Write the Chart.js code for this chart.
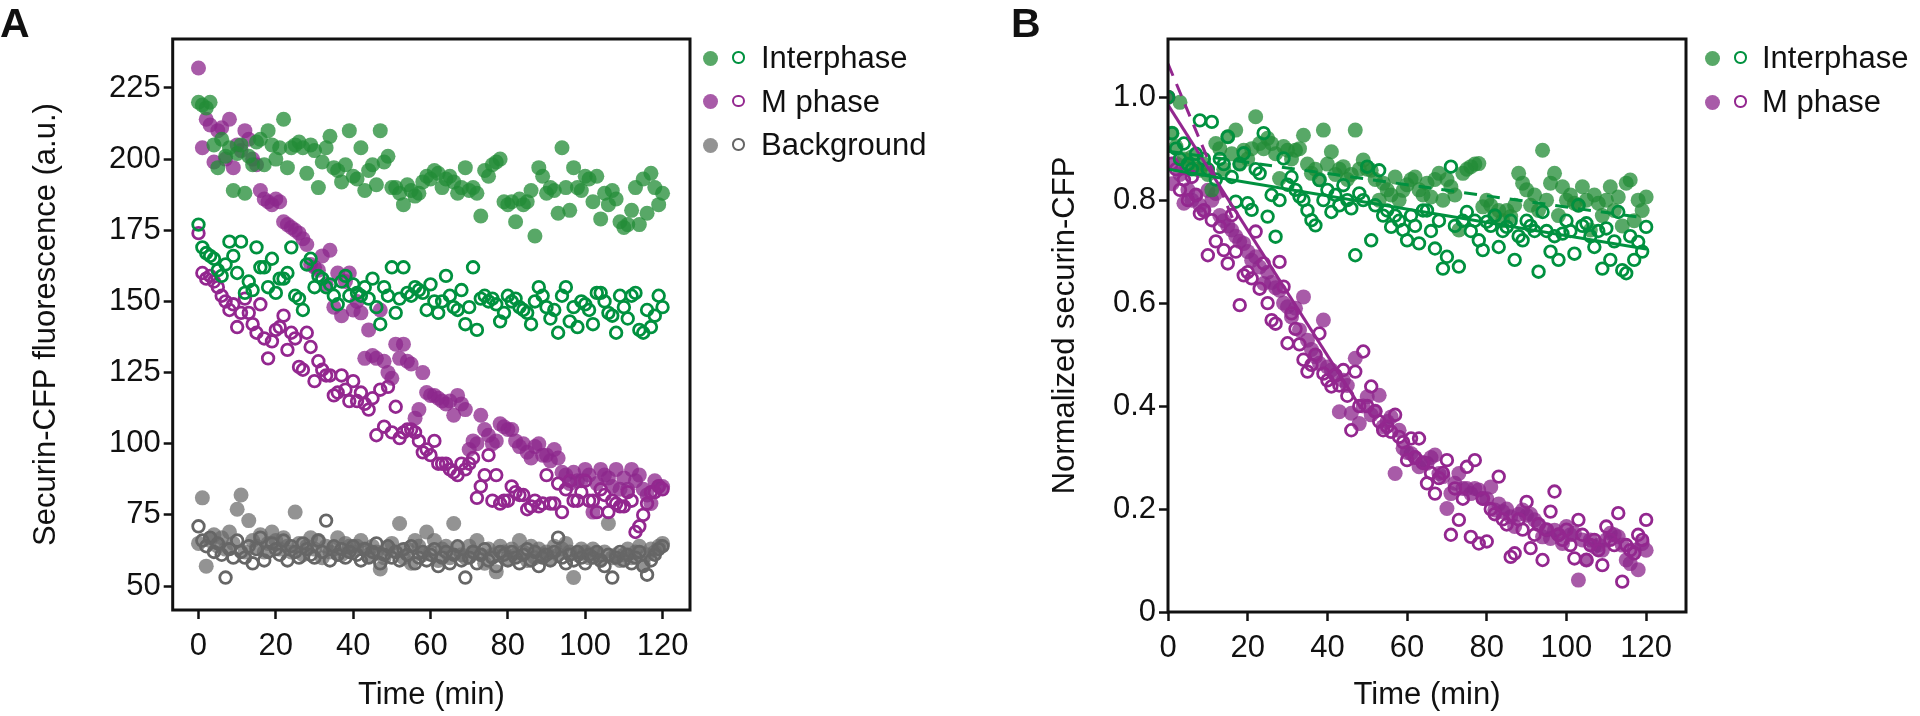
<!DOCTYPE html>
<html>
<head>
<meta charset="utf-8">
<script src="https://cdn.jsdelivr.net/npm/chart.js@4.4.1/dist/chart.umd.min.js"></script>
<style>
  body { margin: 0; background: #fff; width: 1920px; height: 716px; overflow: hidden; position: relative;
         font-family: 'Liberation Sans', Arial, sans-serif; color: #111; }
  .panel { position: absolute; top: 0; width: 960px; height: 716px; }
  .letter { position: absolute; top: 3px; font-weight: bold; font-size: 41px; line-height: 41px; }
  .row { position: absolute; height: 36px; white-space: nowrap; }
  .dot { position: absolute; top: 10.5px; width: 15px; height: 15px; border-radius: 50%; }
  .ring { position: absolute; top: 11px; width: 8.5px; height: 8.5px; border-radius: 50%; border: 2.8px solid; }
  .lbl { position: absolute; top: 0; font-size: 31px; line-height: 36px; }
</style>
</head>
<body>
<div class="panel" style="left:0"><canvas id="chartA" width="960" height="716"></canvas></div>
<div class="panel" style="left:960px"><canvas id="chartB" width="960" height="716"></canvas></div>
<div class="letter" style="left:0">A</div>
<div class="letter" style="left:1011px">B</div>
<div id="legendA"></div>
<div id="legendB"></div>
<script>
// time points (min)
const times = [
  0,1,2,3,4,5,6,7,8,9,10,11,12,13,14,15,16,17,18,19,
  20,21,22,23,24,25,26,27,28,29,30,31,32,33,34,35,36,37,38,39,
  40,41,42,43,44,45,46,47,48,49,50,51,52,53,54,55,56,57,58,59,
  60,61,62,63,64,65,66,67,68,69,70,71,72,73,74,75,76,77,78,79,
  80,81,82,83,84,85,86,87,88,89,90,91,92,93,94,95,96,97,98,99,
  100,101,102,103,104,105,106,107,108,109,110,111,112,113,114,115,116,117,118,119,
  120
];

// Panel A: securin-CFP fluorescence (a.u.)
const interFilledA = [
  220,219,218,220,205,197,207,201,204,189,
  202,205,188,201,198,206,207,198,210,205,
  200,204,214,197,204,205,206,204,195,205,
  203,190,199,204,208,197,196,192,198,210,
  194,193,204,189,196,198,191,210,199,201,
  190,190,188,184,191,189,187,188,192,194,
  193,196,195,190,193,194,192,188,190,197,
  189,190,188,180,196,194,198,199,200,185,
  184,185,178,186,184,185,189,173,197,194,
  188,190,189,181,204,190,182,197,190,189,
  194,193,185,194,179,188,184,189,186,178,
  176,177,182,190,177,193,181,195,190,184,
  188
];
const interOpenA = [
  177,169,167,166,165,161,159,163,171,166,
  160,171,153,157,154,169,162,162,155,165,
  153,158,158,160,169,152,151,147,163,165,
  155,159,158,155,156,152,149,157,159,152,
  156,153,152,155,151,158,148,142,155,152,
  162,146,151,162,153,152,155,154,153,147,
  156,150,146,150,159,152,148,147,154,142,
  148,162,140,151,152,150,151,149,143,146,
  152,150,151,148,147,146,142,150,155,152,
  148,144,147,139,152,155,143,148,141,150,
  149,147,142,153,153,150,146,145,139,152,
  148,144,152,153,140,139,147,141,145,152,
  148
];
const mFilledA = [
  232,204,214,212,199,210,211,200,214,197,
  205,203,210,207,200,198,189,186,185,184,
  186,185,178,177,176,175,174,172,170,163,
  162,161,166,156,168,148,160,145,157,160,
  147,150,146,130,140,131,130,147,129,125,
  123,135,130,135,129,128,109,112,125,118,
  117,117,116,115,114,115,110,117,114,112,
  98,101,100,110,105,103,100,101,107,106,
  105,105,101,99,100,97,95,99,100,96,
  96,94,98,95,90,89,86,90,87,87,
  91,89,76,86,91,89,88,85,91,84,
  88,84,91,87,89,84,82,79,87,85,
  85
];
const mOpenA = [
  174,160,158,159,157,155,152,150,147,149,
  141,146,151,146,142,139,149,137,130,136,
  140,141,145,133,139,137,127,126,139,134,
  122,129,126,124,124,117,118,124,119,115,
  122,115,118,114,112,116,103,119,106,120,
  104,113,102,104,105,105,104,101,97,98,
  96,101,93,93,93,91,90,89,93,91,
  93,95,81,85,89,96,80,89,79,80,
  80,85,83,82,82,77,78,80,78,79,
  89,79,79,86,76,84,87,80,80,83,
  87,80,80,76,84,82,76,80,79,78,
  78,83,80,69,71,75,79,83,83,85,
  84
];
const bgFilledA = [
  65,81,57,66,68,64,67,63,69,65,
  77,82,62,73,66,64,68,62,65,69,
  66,63,67,64,62,76,65,61,64,67,
  63,66,60,64,62,63,67,61,65,64,
  62,64,66,63,61,64,62,56,60,63,
  65,62,72,60,63,58,66,64,61,69,
  62,66,59,63,64,60,72,63,61,60,
  64,62,66,61,58,63,61,55,64,62,
  60,63,61,66,62,59,64,60,63,61,
  62,60,64,61,63,65,62,53,61,63,
  62,60,63,61,59,62,72,60,61,59,
  61,63,60,62,64,58,61,63,62,64,
  65
];
const bgOpenA = [
  71,66,64,67,62,65,61,53,63,60,
  66,62,60,64,58,63,67,59,62,65,
  63,61,66,59,64,62,60,65,63,61,
  60,66,62,73,59,64,61,63,60,62,
  64,61,59,63,60,62,65,58,61,64,
  60,62,59,63,61,64,58,60,62,59,
  61,63,57,60,62,58,61,64,59,53,
  60,62,58,61,63,59,60,57,62,61,
  59,62,60,58,61,63,59,62,57,60,
  61,59,62,67,60,58,61,59,62,60,
  58,61,60,62,59,57,61,53,60,62,
  59,61,58,60,62,57,54,59,61,63,
  64
];

// Panel B: normalized securin-CFP
const interFilledB = [
  1.0,0.93,0.904,0.99,0.88,0.87,0.884,0.86,0.858,0.87,
  0.85,0.82,0.91,0.90,0.86,0.923,0.89,0.936,0.87,0.897,
  0.88,0.90,0.962,0.91,0.90,0.92,0.91,0.89,0.842,0.904,
  0.897,0.88,0.897,0.90,0.926,0.87,0.852,0.86,0.84,0.936,
  0.87,0.894,0.85,0.86,0.865,0.84,0.85,0.936,0.86,0.878,
  0.86,0.858,0.84,0.80,0.833,0.82,0.81,0.845,0.80,0.819,
  0.83,0.84,0.845,0.82,0.81,0.833,0.806,0.84,0.852,0.80,
  0.84,0.826,0.81,0.742,0.852,0.86,0.865,0.87,0.871,0.787,
  0.80,0.79,0.77,0.78,0.76,0.78,0.768,0.79,0.852,0.833,
  0.82,0.79,0.81,0.78,0.897,0.80,0.833,0.852,0.77,0.826,
  0.80,0.81,0.794,0.79,0.826,0.80,0.742,0.81,0.794,0.77,
  0.80,0.826,0.78,0.806,0.75,0.833,0.839,0.76,0.80,0.78,
  0.806
];
const interOpenB = [
  1.0,0.93,0.90,0.88,0.91,0.87,0.86,0.89,0.955,0.88,
  0.86,0.952,0.84,0.88,0.87,0.923,0.845,0.797,0.87,0.891,
  0.794,0.781,0.86,0.852,0.93,0.768,0.81,0.729,0.80,0.881,
  0.83,0.845,0.82,0.807,0.80,0.78,0.761,0.751,0.839,0.80,
  0.82,0.777,0.81,0.79,0.829,0.80,0.784,0.693,0.813,0.80,
  0.865,0.722,0.79,0.858,0.77,0.78,0.748,0.77,0.76,0.742,
  0.722,0.77,0.75,0.716,0.78,0.78,0.74,0.706,0.76,0.667,
  0.69,0.865,0.75,0.671,0.76,0.777,0.74,0.76,0.722,0.703,
  0.758,0.75,0.77,0.709,0.74,0.748,0.76,0.684,0.73,0.722,
  0.76,0.75,0.74,0.661,0.777,0.74,0.70,0.73,0.684,0.735,
  0.76,0.74,0.696,0.79,0.75,0.755,0.73,0.709,0.74,0.667,
  0.745,0.684,0.72,0.777,0.664,0.658,0.73,0.684,0.719,0.70,
  0.748
];
const mFilledB = [
  1.0,0.832,0.871,0.85,0.794,0.82,0.80,0.81,0.79,0.78,
  0.819,0.80,0.813,0.77,0.76,0.75,0.742,0.73,0.72,0.716,
  0.70,0.683,0.69,0.67,0.638,0.66,0.64,0.63,0.625,0.60,
  0.593,0.573,0.59,0.548,0.612,0.528,0.51,0.496,0.483,0.567,
  0.476,0.47,0.46,0.389,0.45,0.44,0.386,0.493,0.366,0.40,
  0.418,0.383,0.39,0.421,0.36,0.37,0.379,0.269,0.353,0.318,
  0.31,0.308,0.30,0.282,0.29,0.289,0.30,0.305,0.269,0.263,
  0.201,0.23,0.25,0.269,0.24,0.24,0.23,0.24,0.237,0.221,
  0.22,0.243,0.198,0.21,0.195,0.20,0.185,0.166,0.19,0.198,
  0.188,0.19,0.179,0.17,0.146,0.16,0.143,0.159,0.15,0.133,
  0.166,0.15,0.153,0.062,0.14,0.101,0.14,0.127,0.13,0.12,
  0.14,0.153,0.15,0.146,0.13,0.101,0.094,0.12,0.082,0.133,
  0.12
];
const mOpenB = [
  1.0,0.871,0.86,0.82,0.84,0.80,0.845,0.81,0.774,0.78,
  0.693,0.761,0.72,0.748,0.703,0.677,0.771,0.70,0.596,0.654,
  0.66,0.648,0.739,0.628,0.677,0.60,0.567,0.56,0.68,0.632,
  0.522,0.58,0.55,0.52,0.49,0.467,0.48,0.50,0.541,0.463,
  0.45,0.438,0.46,0.44,0.47,0.42,0.353,0.467,0.40,0.506,
  0.40,0.438,0.39,0.37,0.353,0.36,0.35,0.383,0.34,0.33,
  0.295,0.337,0.30,0.337,0.29,0.25,0.27,0.23,0.26,0.27,
  0.295,0.15,0.24,0.179,0.22,0.282,0.146,0.295,0.133,0.22,
  0.137,0.20,0.19,0.263,0.18,0.17,0.107,0.114,0.18,0.16,
  0.214,0.124,0.15,0.17,0.101,0.16,0.195,0.234,0.15,0.14,
  0.16,0.13,0.104,0.179,0.15,0.101,0.13,0.14,0.12,0.091,
  0.166,0.14,0.13,0.192,0.059,0.13,0.12,0.114,0.15,0.14,
  0.179
];

// fitted lines in panel B (endpoints)
const interFitTimes = [0, 120];
const interFitSolid = [0.86, 0.705];
const interFitDashed = [0.895, 0.765];
const mFitSolidTimes = [0, 48.5];
const mFitSolid = [0.985, 0.395];
const mFitDashedTimes = [0, 17];
const mFitDashed = [1.065, 0.75];

// axes
const xTicks = [0, 20, 40, 60, 80, 100, 120];
const yTicksA = [50, 75, 100, 125, 150, 175, 200, 225];
const yTicksB = [0, 0.2, 0.4, 0.6, 0.8, 1.0];
const yTickLabelsB = ['0', '0.2', '0.4', '0.6', '0.8', '1.0'];

const GREEN_F = 'rgba(35,140,55,0.76)', GREEN_O = '#00913f';
const PURPLE_F = 'rgba(140,40,140,0.76)', PURPLE_O = '#93278f';
const GRAY_F = 'rgba(105,105,105,0.72)', GRAY_O = '#666666';

const FONT = "'Liberation Sans', Arial, sans-serif";
const pts = ys => times.map((t, i) => ({ x: t, y: ys[i] }));
const linePts = (xs, ys) => xs.map((t, i) => ({ x: t, y: ys[i] }));

const filled = (label, ys, color, order) => ({
  label, data: pts(ys), order,
  pointRadius: 7.5, pointBorderWidth: 0,
  pointBackgroundColor: color, pointBorderColor: color
});
const open = (label, ys, color, order) => ({
  label, data: pts(ys), order,
  pointRadius: 5.8, pointBorderWidth: 2.8,
  pointBackgroundColor: 'rgba(0,0,0,0)', pointBorderColor: color
});
const fit = (xs, ys, color, dash) => ({
  data: linePts(xs, ys), showLine: true, order: -1,
  pointRadius: 0, borderColor: color, borderWidth: 3, borderDash: dash
});

const boxPlugin = {
  id: 'box',
  afterDatasetsDraw(chart) {
    const { ctx, chartArea: a } = chart;
    ctx.save();
    ctx.strokeStyle = '#111';
    ctx.lineWidth = 3;
    ctx.strokeRect(a.left, a.top, a.right - a.left, a.bottom - a.top);
    ctx.restore();
  }
};

function axis(opts) {
  return {
    type: 'linear',
    min: opts.min, max: opts.max,
    border: { display: false },
    grid: { display: true, drawOnChartArea: false, drawTicks: true, tickLength: 9,
            tickWidth: 2.5, tickColor: '#111' },
    ticks: {
      color: '#111', padding: opts.tickPad || 3,
      font: { family: FONT, size: 31 },
      callback: opts.labels ? (v, i) => opts.labels[i] : (v) => String(v)
    },
    title: { display: true, text: opts.title, color: '#111',
             font: { family: FONT, size: 31, lineHeight: 1.2 }, padding: opts.titlePad },
    afterBuildTicks: s => { s.ticks = opts.ticks.map(v => ({ value: v })); },
    afterFit: s => { if (opts.width) s.width = opts.width; if (opts.height) s.height = opts.height; }
  };
}

function makeChart(id, datasets, scales, padding) {
  return new Chart(document.getElementById(id), {
    type: 'scatter',
    data: { datasets },
    options: {
      responsive: false, animation: false, devicePixelRatio: 1,
      layout: { padding },
      plugins: { legend: { display: false }, tooltip: { enabled: false } },
      events: [],
      scales
    },
    plugins: [boxPlugin]
  });
}

makeChart('chartA', [
  open('Interphase', interOpenA, GREEN_O, 0),
  open('M phase', mOpenA, PURPLE_O, 1),
  filled('Interphase', interFilledA, GREEN_F, 2),
  filled('M phase', mFilledA, PURPLE_F, 3),
  open('Background', bgOpenA, GRAY_O, 4),
  filled('Background', bgFilledA, GRAY_F, 5)
], {
  x: axis({ min: -6.67, max: 127.1, ticks: xTicks, title: 'Time (min)', tickPad: 9,
            titlePad: { top: 0, bottom: 2 }, height: 106 }),
  y: axis({ min: 41.6, max: 242.2, ticks: yTicksA, title: 'Securin-CFP fluorescence (a.u.)',
            titlePad: { top: 28, bottom: 0 }, width: 172.7 })
}, { top: 39, right: 270, left: 0, bottom: 0 });

makeChart('chartB', [
  fit(interFitTimes, interFitSolid, GREEN_O, []),
  fit(interFitTimes, interFitDashed, GREEN_O, [13, 10]),
  fit(mFitSolidTimes, mFitSolid, PURPLE_O, []),
  fit(mFitDashedTimes, mFitDashed, PURPLE_O, [13, 9]),
  open('Interphase', interOpenB, GREEN_O, 0),
  open('M phase', mOpenB, PURPLE_O, 1),
  filled('Interphase', interFilledB, GREEN_F, 2),
  filled('M phase', mFilledB, PURPLE_F, 3)
], {
  x: axis({ min: 0, max: 130, ticks: xTicks, title: 'Time (min)', tickPad: 9,
            titlePad: { top: 0, bottom: 2 }, height: 104 }),
  y: axis({ min: 0, max: 1.113, ticks: yTicksB, labels: yTickLabelsB, title: 'Normalized securin-CFP',
            titlePad: { top: 87, bottom: 0 }, width: 208 })
}, { top: 39, right: 234, left: 0, bottom: 0 });

// legends (two markers + label per row)
function legend(el, rows, dotX, ringX, textX) {
  const box = document.getElementById(el);
  rows.forEach(r => {
    const row = document.createElement('div');
    row.className = 'row';
    row.style.left = '0px';
    row.style.top = (r.y - 18) + 'px';
    row.innerHTML =
      `<div class="dot" style="left:${dotX - 7.5}px;background:${r.fill}"></div>` +
      `<div class="ring" style="left:${ringX - 7}px;border-color:${r.stroke}"></div>` +
      `<div class="lbl" style="left:${textX}px">${r.text}</div>`;
    box.appendChild(row);
  });
}
legend('legendA', [
  { text: 'Interphase', y: 58, fill: GREEN_F, stroke: GREEN_O },
  { text: 'M phase', y: 101.5, fill: PURPLE_F, stroke: PURPLE_O },
  { text: 'Background', y: 145, fill: GRAY_F, stroke: GRAY_O }
], 710.7, 739, 761);
legend('legendB', [
  { text: 'Interphase', y: 58, fill: GREEN_F, stroke: GREEN_O },
  { text: 'M phase', y: 102, fill: PURPLE_F, stroke: PURPLE_O }
], 1712, 1741, 1762);
</script>
</body>
</html>
